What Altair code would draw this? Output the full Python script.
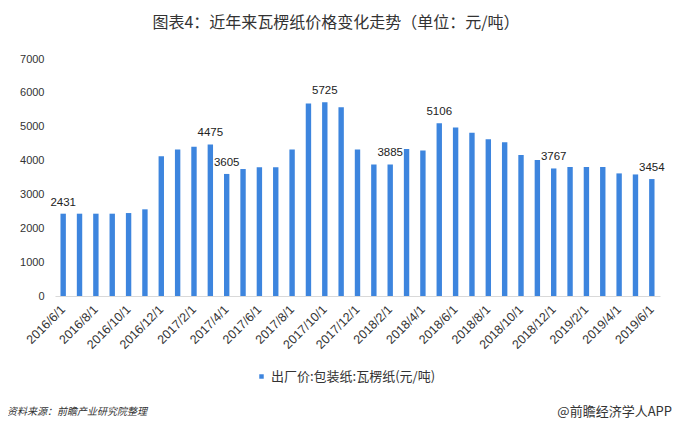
import altair as alt
import pandas as pd

dates = [
    "2016/6/1", "2016/7/1", "2016/8/1", "2016/9/1", "2016/10/1", "2016/11/1",
    "2016/12/1", "2017/1/1", "2017/2/1", "2017/3/1", "2017/4/1", "2017/5/1",
    "2017/6/1", "2017/7/1", "2017/8/1", "2017/9/1", "2017/10/1", "2017/11/1",
    "2017/12/1", "2018/1/1", "2018/2/1", "2018/3/1", "2018/4/1", "2018/5/1",
    "2018/6/1", "2018/7/1", "2018/8/1", "2018/9/1", "2018/10/1", "2018/11/1",
    "2018/12/1", "2019/1/1", "2019/2/1", "2019/3/1", "2019/4/1", "2019/5/1",
    "2019/6/1",
]
values = [
    2431, 2431, 2431, 2431, 2450, 2560,
    4127, 4326, 4405, 4475, 3605, 3750,
    3800, 3800, 4326, 5685, 5725, 5576,
    4326, 3885, 3885, 4345, 4300, 5106,
    4980, 4822, 4633, 4544, 4167, 4018,
    3767, 3810, 3810, 3810, 3621, 3590,
    3454,
]
labeled_dates = ["2016/6/1", "2017/3/1", "2017/4/1", "2017/10/1",
                 "2018/2/1", "2018/5/1", "2018/12/1", "2019/6/1"]
x_tick_labels = [
    "2016/6/1", "2016/8/1", "2016/10/1", "2016/12/1", "2017/2/1", "2017/4/1",
    "2017/6/1", "2017/8/1", "2017/10/1", "2017/12/1", "2018/2/1", "2018/4/1",
    "2018/6/1", "2018/8/1", "2018/10/1", "2018/12/1", "2019/2/1", "2019/4/1",
    "2019/6/1",
]
y_ticks = [0, 1000, 2000, 3000, 4000, 5000, 6000, 7000]

series_name = "出厂价:包装纸:瓦楞纸(元/吨)"
title_text = "图表4：近年来瓦楞纸价格变化走势（单位：元/吨）"
source_text = "资料来源：前瞻产业研究院整理"
brand_text = "@前瞻经济学人APP"

CJK = "Noto Sans CJK SC"
LAT = "Liberation Sans"
BAR = "#3d85de"

df = pd.DataFrame({"date": dates, "value": values, "series": series_name})
df["label"] = [str(v) if d in labeled_dates else "" for d, v in zip(dates, values)]

x_axis = alt.Axis(values=x_tick_labels, labelAngle=-45, labelAlign="right",
                  labelBaseline="middle", title=None, ticks=False,
                  domainColor="#d9d9d9", labelFontSize=12.5, labelColor="#333333",
                  labelFont=LAT, labelPadding=11, labelOverlap=False)
y_axis = alt.Axis(values=y_ticks, format="d", title=None, grid=False,
                  domain=False, ticks=False, labelFontSize=11,
                  labelColor="#333333", labelFont=LAT, labelPadding=11,
                  labelOverlap=False)
x_scale = alt.Scale(paddingInner=0.67, paddingOuter=0.335)
y_scale = alt.Scale(domain=[0, 7000], nice=False)

x_enc = alt.X("date:N", sort=dates, scale=x_scale, axis=x_axis)
y_enc = alt.Y("value:Q", scale=y_scale, axis=y_axis)

bars = alt.Chart(df).mark_bar(color=BAR).encode(
    x=x_enc, y=y_enc,
    color=alt.Color("series:N", scale=alt.Scale(range=[BAR]),
                    legend=alt.Legend(orient="none", legendX=200, legendY=311,
                                      title=None, symbolType="square",
                                      symbolSize=20, padding=0, labelLimit=400,
                                      labelFont=CJK, labelFontSize=13,
                                      labelColor="#333333", labelOffset=3)),
)

labels = alt.Chart(df).transform_filter("datum.label != ''").mark_text(
    baseline="bottom", dy=-6, font=LAT, fontSize=11.5, color="#222222"
).encode(x=x_enc, y=y_enc, text="label:N")

title = alt.Chart(pd.DataFrame({"t": [title_text]})).mark_text(
    font=CJK, fontSize=16, color="#333333", align="center", baseline="middle"
).encode(text="t:N", x=alt.value(281), y=alt.value(-36))

source = alt.Chart(pd.DataFrame({"t": [source_text]})).mark_text(
    font=CJK, fontSize=10, fontStyle="italic", color="#333333",
    align="left", baseline="middle"
).encode(text="t:N", x=alt.value(-48), y=alt.value(353))

brand = alt.Chart(pd.DataFrame({"t": [brand_text]})).mark_text(
    font=CJK, fontSize=13, color="#333333", align="right", baseline="middle"
).encode(text="t:N", x=alt.value(617), y=alt.value(353))

chart = alt.layer(bars, labels, title, source, brand).properties(
    width=605, height=237,
    autosize=alt.AutoSizeParams(type="none"),
    padding={"left": 47, "top": 51, "right": 12, "bottom": 127},
).configure_view(stroke=None)

chart.save("out.html", embed_options={"renderer": "svg", "actions": False})
